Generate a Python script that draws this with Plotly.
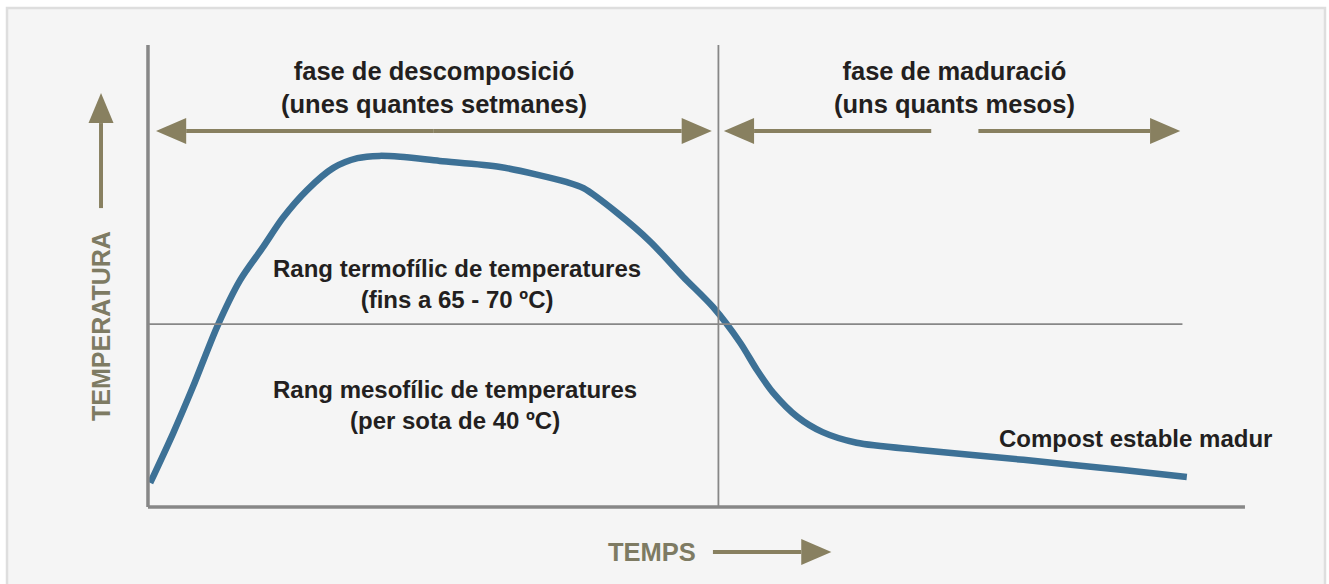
import plotly.graph_objects as go

# ---- data (arbitrary units: time 0-100, temperature 0-100) ----
time = [0.2, 2.3, 4.1, 6.3, 8.4, 10.5, 12.3, 14.5, 16.9, 19.1, 21.1, 23.0, 26.6,
        32.1, 38.2, 39.7, 42.8, 45.8, 48.8, 51.5, 54.0, 55.5, 57.0, 59.2, 61.5,
        64.6, 70.6, 79.8, 88.9, 94.7]
temp = [5.2, 16.0, 26.0, 39.0, 49.1, 56.3, 62.6, 68.6, 73.4, 75.5, 76.0, 75.8, 74.9,
        73.6, 70.3, 69.0, 63.6, 57.4, 49.8, 43.3, 35.5, 29.7, 24.7, 19.5, 16.2,
        13.9, 12.3, 10.2, 8.0, 6.5]

axis_max = 100
mesophilic_limit = 39.6      # boundary between ranges
threshold_end = 94.3
phase_boundary = 52.0        # end of decomposition phase

phase_labels = ["fase de descomposició<br>(unes quantes setmanes)",
                "fase de maduració<br>(uns quants mesos)"]
range_labels = ["Rang termofílic de temperatures<br>(fins a 65 - 70 ºC)",
                "Rang mesofílic de temperatures<br>(per sota de 40 ºC)"]
end_label = "Compost estable madur"
x_label = "TEMPS"
y_label = "TEMPERATURA"

# ---- styles ----
BLUE = "#3d7196"
GRAY = "#878787"
OLIVE = "#888060"
OLIVE_TXT = "#7e7b63"
DARK = "#231f20"
FONT = "Liberation Sans, Arial, sans-serif"

X_RANGE = [-13.49, 107.66]
Y_RANGE = [-16.67, 109.74]
HX = 1.14   # arrow head half width in x units (vertical arrow)
HY = 2.81   # arrow head half height in y units (horizontal arrows)
HL_X = 2.75  # arrow head length in x units
HL_Y = 6.5   # arrow head length in y units

fig = go.Figure()
fig.add_trace(go.Scatter(x=time, y=temp, mode="lines",
                         line=dict(color=BLUE, width=6.5, shape="spline", smoothing=0.8),
                         hoverinfo="skip", showlegend=False))

shapes = []
# background panel with border
shapes.append(dict(type="rect", xref="paper", yref="paper", x0=7/1329, x1=1325/1329,
                   y0=-0.05, y1=1-8/584, fillcolor="#f5f5f5",
                   line=dict(color="#dedede", width=2.5), layer="below"))
# axes
shapes.append(dict(type="line", x0=0, x1=0, y0=0, y1=axis_max, line=dict(color=GRAY, width=3.5)))
shapes.append(dict(type="line", x0=0, x1=axis_max, y0=0, y1=0, line=dict(color=GRAY, width=3.5)))
# divider and threshold
shapes.append(dict(type="line", x0=phase_boundary, x1=phase_boundary, y0=0, y1=axis_max,
                   line=dict(color=GRAY, width=1.8)))
shapes.append(dict(type="line", x0=0, x1=threshold_end, y0=mesophilic_limit, y1=mesophilic_limit,
                   line=dict(color=GRAY, width=1.8)))


def harrow(x_from, x_tip, y, head=True):
    d = 1 if x_tip > x_from else -1
    base = x_tip - d * HL_X if head else x_tip
    shapes.append(dict(type="line", x0=x_from, x1=base, y0=y, y1=y,
                       line=dict(color=OLIVE, width=4)))
    if head:
        shapes.append(dict(type="path",
                           path=f"M {x_tip},{y} L {base},{y+HY} L {base},{y-HY} Z",
                           fillcolor=OLIVE, line=dict(width=0)))


arrow_y = 81.4
harrow(26.0, 0.73, arrow_y)
harrow(26.0, 51.4, arrow_y)
harrow(71.4, 52.5, arrow_y)
harrow(75.7, 94.1, arrow_y)
harrow(51.5, 62.3, -9.74)

# vertical temperature arrow
yx = -4.28
shapes.append(dict(type="line", x0=yx, x1=yx, y0=64.7, y1=89.6 - HL_Y,
                   line=dict(color=OLIVE, width=4)))
shapes.append(dict(type="path",
                   path=f"M {yx},89.6 L {yx-HX},{89.6-HL_Y} L {yx+HX},{89.6-HL_Y} Z",
                   fillcolor=OLIVE, line=dict(width=0)))

annotations = [
    dict(x=26.1, y=90.7, text=phase_labels[0], font=dict(size=25.5, color=DARK)),
    dict(x=73.5, y=90.7, text=phase_labels[1], font=dict(size=25.5, color=DARK)),
    dict(x=28.2, y=48.3, text=range_labels[0], font=dict(size=24, color=DARK)),
    dict(x=28.0, y=22.1, text=range_labels[1], font=dict(size=24, color=DARK)),
    dict(x=90.0, y=14.9, text=end_label, font=dict(size=24, color=DARK)),
    dict(x=45.9, y=-9.74, text=x_label, font=dict(size=25.5, color=OLIVE_TXT)),
    dict(x=yx, y=39.2, text=y_label, textangle=-90, font=dict(size=25, color=OLIVE_TXT)),
]
for a in annotations:
    a.update(xref="x", yref="y", showarrow=False, xanchor="center", yanchor="middle")
    a["font"].update(family=FONT, weight="bold")

fig.update_layout(
    width=1329, height=584,
    margin=dict(l=0, r=0, t=0, b=0),
    paper_bgcolor="white", plot_bgcolor="rgba(0,0,0,0)",
    xaxis=dict(range=X_RANGE, visible=False, fixedrange=True),
    yaxis=dict(range=Y_RANGE, visible=False, fixedrange=True),
    shapes=shapes, annotations=annotations, showlegend=False,
)

fig.write_html("out.html", config={"displayModeBar": False},
               post_script="document.body.style.margin='0';document.body.style.overflow='hidden';")
